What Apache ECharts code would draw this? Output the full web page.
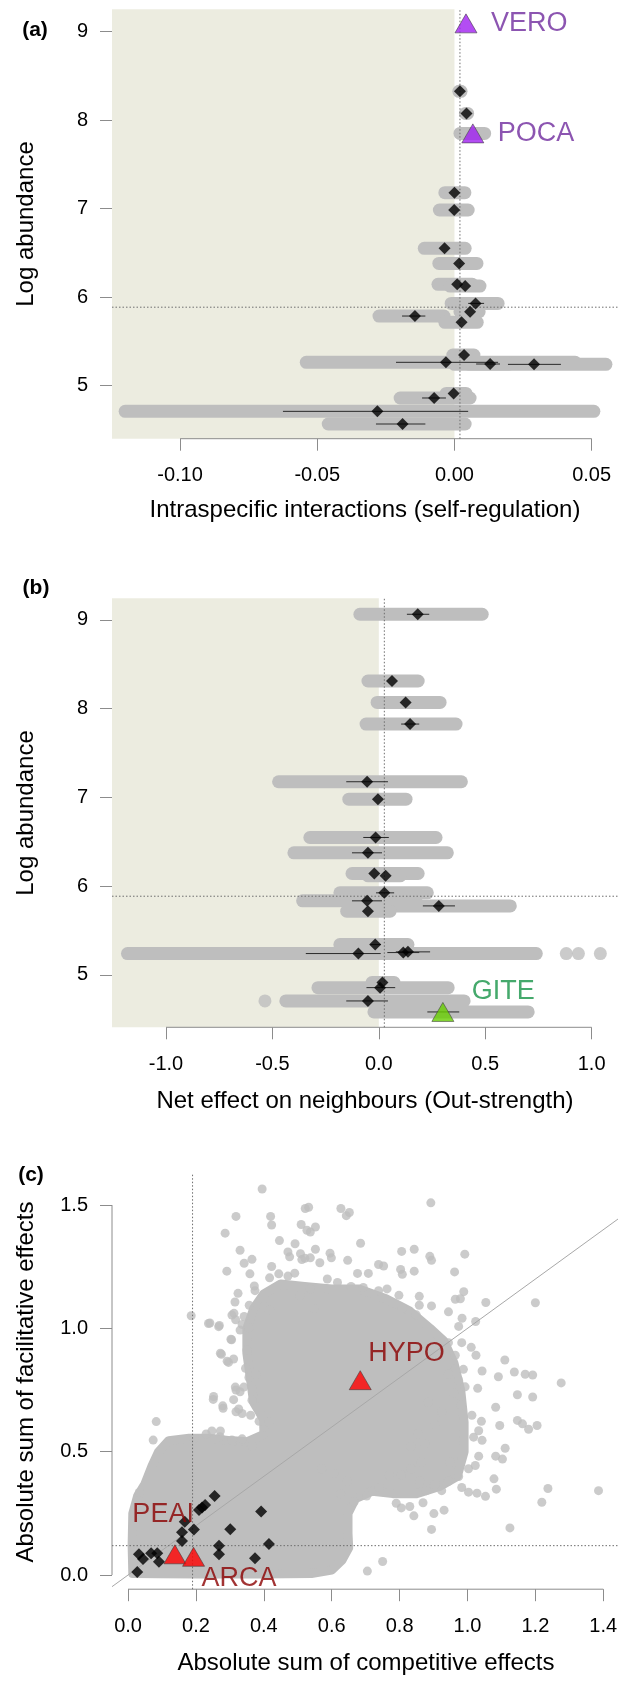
<!DOCTYPE html>
<html><head><meta charset="utf-8">
<script src="https://cdn.jsdelivr.net/npm/echarts@6/dist/echarts.min.js"></script>
<style>html,body{margin:0;padding:0;background:#fff}#c{width:622px;height:1700px}</style>
</head><body><div id="c"></div>
<script>
// ---------- Panel (a): intraspecific interactions ----------
const aBandY  = [8.326, 8.077, 7.851, 7.181, 6.985, 6.552, 6.382, 6.145, 6.126, 5.930, 5.836, 5.787, 5.716, 5.347, 5.264, 5.245, 5.241, 4.913, 4.861, 4.710, 4.567];
const aBandLo = [0.0016, 0.0040, 0.0020, -0.0035, -0.0055, -0.0110, -0.0057, -0.0060, -0.0016, -0.0012, 0.0020, -0.0275, -0.0035, -0.0006, -0.0540, 0.0050, 0.0000, -0.0030, -0.0198, -0.1200, -0.0460];
const aBandHi = [0.0024, 0.0048, 0.0110, 0.0038, 0.0050, 0.0039, 0.0082, 0.0065, 0.0093, 0.0159, 0.0090, -0.0038, 0.0083, 0.0071, 0.0440, 0.0200, 0.0552, 0.0042, 0.0057, 0.0508, 0.0039];
const aMeanY  = [8.326, 8.077, 7.181, 6.985, 6.552, 6.382, 6.145, 6.126, 5.930, 5.836, 5.787, 5.716, 5.347, 5.264, 5.245, 5.241, 4.913, 4.861, 4.710, 4.567];
const aMeanX  = [0.0020, 0.0044, 0.0000, -0.0001, -0.0036, 0.0017, 0.0010, 0.0039, 0.0077, 0.0057, -0.0144, 0.0026, 0.0035, -0.0031, 0.0130, 0.0290, -0.0003, -0.0074, -0.0281, -0.0189];
const aErrY   = [5.930, 5.787, 5.264, 5.245, 5.241, 4.861, 4.710, 4.567];
const aErrLo  = [0.0050, -0.0191, -0.0213, 0.0079, 0.0195, -0.0118, -0.0625, -0.0286];
const aErrHi  = [0.0108, -0.0106, 0.0159, 0.0166, 0.0388, -0.0031, 0.0050, -0.0106];
const aTriName = ['VERO', 'POCA'];
const aTriX    = [0.0042, 0.0067];
const aTriY    = [9.094, 7.851];
const aRefX = 0.002, aRefY = 5.887;
const aTicksX = [-0.10, -0.05, 0.00, 0.05];
const aTicksY = [5, 6, 7, 8, 9];

// ---------- Panel (b): net effect on neighbours ----------
const bBandY  = [9.064, 8.312, 8.071, 7.827, 7.177, 6.981, 6.549, 6.376, 6.143, 6.117, 5.925, 5.835, 5.778, 5.718, 5.342, 5.241, 4.914, 4.857, 4.707, 4.583];
const bBandLo = [-0.089, -0.051, -0.008, -0.060, -0.471, -0.141, -0.324, -0.399, -0.126, -0.050, -0.183, -0.358, -0.032, -0.151, -0.183, -1.181, -0.032, -0.286, -0.437, -0.023];
const bBandHi = [0.486, 0.185, 0.288, 0.363, 0.388, 0.128, 0.269, 0.322, 0.185, 0.100, 0.228, 0.175, 0.618, 0.053, 0.137, 0.740, 0.072, 0.326, 0.401, 0.702];
const bDotX   = [0.881, 0.938, 1.041, -0.535];
const bDotY   = [5.241, 5.241, 5.241, 4.707];
const bMeanY  = [9.064, 8.312, 8.071, 7.827, 7.177, 6.981, 6.549, 6.376, 6.143, 6.117, 5.925, 5.835, 5.778, 5.718, 5.342, 5.241, 5.252, 5.260, 4.914, 4.857, 4.707];
const bMeanX  = [0.183, 0.062, 0.126, 0.147, -0.055, -0.004, -0.015, -0.051, -0.021, 0.032, 0.026, -0.055, 0.282, -0.051, -0.017, -0.096, 0.115, 0.137, 0.017, 0.006, -0.051];
const bErrY   = [9.064, 7.827, 7.177, 6.549, 6.376, 5.925, 5.835, 5.778, 5.342, 5.241, 5.252, 5.260, 4.857, 4.707, 4.583];
const bErrLo  = [0.132, 0.105, -0.153, -0.073, -0.126, -0.013, -0.126, 0.207, -0.040, -0.343, 0.040, 0.080, -0.058, -0.153, 0.228];
const bErrHi  = [0.237, 0.190, 0.043, 0.047, 0.015, 0.072, 0.015, 0.358, 0.010, 0.009, 0.190, 0.241, 0.077, 0.043, 0.378];
const bTriName = ['GITE'];
const bTriX    = [0.301];
const bTriY    = [4.583];
const bRefX = 0.026, bRefY = 5.887;
const bTicksX = [-1.0, -0.5, 0.0, 0.5, 1.0];
const bTicksY = [5, 6, 7, 8, 9];

// ---------- Panel (c): competitive vs facilitative effects ----------
// outline of the region completely covered by overlapping grey points
const cDenseCloud = [[0.014,0.006],[0.012,0.12],[0.014,0.25],[0.028,0.32],[0.05,0.37],[0.07,0.44],[0.09,0.50],[0.12,0.545],[0.18,0.555],[0.24,0.555],[0.30,0.545],[0.35,0.54],[0.40,0.57],[0.40,0.63],[0.37,0.70],[0.36,0.80],[0.35,0.90],[0.35,1.00],[0.37,1.08],[0.40,1.14],[0.45,1.18],[0.52,1.17],[0.60,1.16],[0.68,1.16],[0.76,1.12],[0.83,1.07],[0.89,1.00],[0.93,0.95],[0.96,0.86],[0.98,0.75],[0.99,0.62],[0.99,0.50],[0.97,0.40],[0.92,0.36],[0.85,0.33],[0.78,0.33],[0.72,0.34],[0.67,0.31],[0.648,0.25],[0.648,0.17],[0.65,0.11],[0.63,0.06],[0.60,0.02],[0.54,0.006],[0.39,0.004],[0.21,0.004],[0.09,0.005]];
// individually visible grey points
const cScatter = [
 [0.395,1.565],[0.318,1.454],[0.420,1.454],[0.423,1.419],[0.286,1.386],[0.510,1.421],[0.532,1.491],[0.446,1.356],[0.330,1.317],[0.492,1.343],
 [0.471,1.310],[0.476,1.290],[0.508,1.303],[0.521,1.284],[0.365,1.280],[0.342,1.264],[0.291,1.232],[0.359,1.221],[0.423,1.251],[0.417,1.205],
 [0.444,1.221],[0.471,1.212],[0.491,1.224],[0.372,1.172],[0.374,1.153],[0.324,1.142],[0.315,1.107],[0.186,1.051],[0.241,1.022],[0.269,1.012],
 [0.305,0.954],[0.275,0.895],[0.296,0.862],[0.312,1.061],[0.342,1.048],[0.317,1.035],[0.357,1.094],[0.400,1.088],[0.417,1.074],
 [0.892,1.509],[0.522,1.486],[0.627,1.486],[0.652,1.470],[0.643,1.457],[0.552,1.411],[0.537,1.391],[0.527,1.398],[0.685,1.345],[0.806,1.312],
 [0.843,1.321],[0.889,1.292],[0.894,1.276],[0.992,1.301],[0.552,1.321],[0.595,1.305],[0.599,1.286],[0.647,1.276],[0.512,1.279],[0.537,1.286],
 [0.565,1.266],[0.738,1.259],[0.753,1.253],[0.803,1.239],[0.808,1.219],[0.843,1.232],[0.676,1.223],[0.708,1.223],[0.962,1.229],[0.989,1.149],
 [0.979,1.120],[0.964,1.118],[1.054,1.105],[0.858,1.130],[0.858,1.094],[0.894,1.091],[0.944,1.067],[1.024,1.028],[0.984,1.041],[0.974,1.008],
 [0.587,1.200],[0.617,1.186],[0.657,1.170],[0.693,1.166],[0.738,1.153],[0.763,1.160],[0.798,1.134],[0.808,1.081],[0.849,1.055],[0.537,1.160],
 [0.507,1.133],[0.547,1.081],[1.200,1.104],[0.350,0.912],[0.330,0.993],
 [0.251,0.712],[0.280,0.676],[0.318,0.750],[0.330,0.743],[0.318,0.662],[0.336,0.655],[0.365,0.709],[0.083,0.622],[0.330,0.541],[0.365,0.523],
 [0.401,0.601],[0.074,0.547],[0.033,0.335],[0.194,0.554],[0.230,0.572],[0.271,0.561],[0.306,0.547],[0.018,0.25],
 [0.237,1.020],[0.267,1.007],[0.303,0.956],[0.272,0.899],[0.292,0.867],[0.252,0.724],[0.279,0.686],[0.316,0.762],[0.341,0.762],[0.311,0.711],
 [0.326,0.673],[0.361,0.648],[0.386,0.623],[0.415,0.620],[0.336,0.552],[0.247,0.584],[0.272,0.584],[0.306,1.054],[0.336,1.016],[0.356,1.003],
 [0.311,0.876],[0.346,0.838],[0.356,0.801],[0.376,0.813],
 [1.011,0.923],[1.025,0.891],[1.110,0.872],[1.138,0.823],[1.170,0.814],[1.192,0.811],[1.276,0.779],[1.091,0.804],[1.043,0.827],[1.147,0.731],
 [1.192,0.722],[1.030,0.757],[1.083,0.680],[1.095,0.606],[1.147,0.627],[1.162,0.613],[1.180,0.591],[1.205,0.606],[1.041,0.623],[1.111,0.514],
 [1.083,0.482],[1.103,0.470],[1.078,0.390],[1.085,0.348],[1.237,0.351],[1.386,0.342],[1.219,0.295],[1.125,0.191],[0.894,0.185],[0.931,0.263],
 [0.901,0.249],[0.842,0.240],[0.869,0.293],[0.830,0.278],[0.790,0.291],[0.805,0.272],[1.053,0.319],[1.028,0.332],[1.003,0.336],[0.750,0.055],
 [0.705,0.016],[0.949,0.457],[0.974,0.399],[0.944,0.380],[0.983,0.355],[1.003,0.431],[1.023,0.444],[1.033,0.482],[1.018,0.559],[1.043,0.546],
 [1.033,0.585],[1.013,0.648],[0.981,0.689],[0.959,0.738],[0.993,0.763],[0.974,0.789],[0.988,0.834],[0.964,0.834],[0.884,0.700],[0.924,0.661],
 [0.904,0.610],[0.854,0.572],[0.874,0.533],[0.834,0.521],[0.864,0.457],[0.834,0.431],[0.805,0.406],[0.770,0.403],[0.859,0.380],[0.904,0.367],
 [0.879,0.342],[0.924,0.342],[0.740,0.355],[0.703,0.320],[0.666,0.297],[0.606,0.412],[0.646,0.380],[0.626,0.329],[0.571,0.431],
 [0.944,0.814],[0.964,0.891],[0.944,0.942],[0.983,0.942]
];
const cDiaX = [0.027, 0.032, 0.044, 0.068, 0.086, 0.091, 0.159, 0.159, 0.167, 0.194, 0.209, 0.218, 0.227, 0.255, 0.301, 0.268, 0.268, 0.374, 0.392, 0.415];
const cDiaY = [0.012, 0.084, 0.065, 0.088, 0.088, 0.054, 0.138, 0.173, 0.216, 0.185, 0.264, 0.274, 0.284, 0.320, 0.186, 0.119, 0.084, 0.068, 0.258, 0.126];
const cTriName = ['HYPO', 'PEAI', 'ARCA'];
const cTriX    = [0.684, 0.138, 0.193];
const cTriY    = [0.790, 0.084, 0.074];
const cRefX = 0.19, cRefY = 0.119;
const cTicksX = [0.0, 0.2, 0.4, 0.6, 0.8, 1.0, 1.2, 1.4];
const cTicksY = [0.0, 0.5, 1.0, 1.5];

// ---------- styling ----------
const FONT = '"Liberation Sans", Arial, Helvetica, sans-serif';
const GRAY = '#BEBEBE';
const SHADE = '#ECECE0';
const AXIS = '#8C8C8C';
const labelStyle = {
  VERO: {color:'#6F2A9E', fill:'#A020F0', align:'left', offset:[25,0]},
  POCA: {color:'#6F2A9E', fill:'#A020F0', align:'left', offset:[25,0]},
  GITE: {color:'#169447', fill:'#66CD00', align:'left', offset:[29,-20]},
  HYPO: {color:'#8B0000', fill:'#FF0000', align:'left', offset:[8,-27]},
  PEAI: {color:'#8B0000', fill:'#FF0000', align:'right', offset:[19,-40]},
  ARCA: {color:'#8B0000', fill:'#FF0000', align:'left', offset:[8,22]}
};
const ranges = [
  {xmin:-0.1248, xmax:0.0596, ymin:4.401, ymax:9.253},
  {xmin:-1.2538, xmax:1.124, ymin:4.41, ymax:9.244},
  {xmin:-0.0473, xmax:1.4434, ymin:-0.0575, ymax:1.63}
];

function segSeries(gi, segs, style, z) {
  return {type:'custom', xAxisIndex:gi, yAxisIndex:gi, z:z, silent:true,
    data: segs, encode:{x:[0,2], y:[1,3]},
    renderItem: function(p, api) {
      const a = api.coord([api.value(0), api.value(1)]);
      const b = api.coord([api.value(2), api.value(3)]);
      return {type:'line', shape:{x1:a[0], y1:a[1], x2:b[0], y2:b[1]}, style:Object.assign({}, style)};
    }};
}
function shadeSeries(gi, x0, x1, y0, y1) {
  return {type:'custom', xAxisIndex:gi, yAxisIndex:gi, z:1, silent:true,
    data:[[x0, y0, x1, y1]], encode:{x:[0,2], y:[1,3]},
    renderItem: function(p, api) {
      const a = api.coord([api.value(0), api.value(3)]);
      const b = api.coord([api.value(2), api.value(1)]);
      return {type:'rect', shape:{x:a[0], y:a[1], width:b[0]-a[0], height:b[1]-a[1]}, style:{fill:SHADE}};
    }};
}
function polySeries(gi, pts) {
  return {type:'custom', xAxisIndex:gi, yAxisIndex:gi, z:2, silent:true,
    data:[pts[0]], encode:{x:0, y:1},
    renderItem: function(p, api) {
      return {type:'polygon', shape:{points: pts.map(q => api.coord(q))},
        style:{fill:GRAY, stroke:GRAY, lineWidth:9, lineJoin:'round'}};
    }};
}
function diamondSeries(gi, xs, ys) {
  return {type:'scatter', xAxisIndex:gi, yAxisIndex:gi, z:6, silent:true,
    symbol:'diamond', symbolSize:12, itemStyle:{color:'#000'},
    data: xs.map((x,i) => [x, ys[i]])};
}
function dotSeries(gi, pts, size) {
  return {type:'scatter', xAxisIndex:gi, yAxisIndex:gi, z:2, silent:true,
    symbol:'circle', symbolSize:size, itemStyle:{color:GRAY},
    data: pts};
}
function triSeries(gi, names, xs, ys) {
  return {type:'scatter', xAxisIndex:gi, yAxisIndex:gi, z:7, silent:true,
    symbol:'triangle', symbolSize:[22,19],
    data: names.map((n,i) => {
      const s = labelStyle[n];
      return {name:n, value:[xs[i], ys[i]],
        itemStyle:{color:s.fill, borderColor:'#3a3a3a', borderWidth:0.7},
        label:{show:true, formatter:n, position:'inside', align:s.align, verticalAlign:'middle',
          offset:s.offset, color:s.color, fontSize:27, fontFamily:FONT}};
    })};
}
function refLines(gi, rx, ry) {
  const r = ranges[gi];
  return segSeries(gi, [[rx, r.ymin, rx, r.ymax], [r.xmin, ry, r.xmax, ry]],
    {stroke:'#6E6E6E', lineWidth:1, lineDash:[1.5,2]}, 4);
}
function bandSeries(gi, ys, lo, hi) {
  return segSeries(gi, ys.map((y,i) => [lo[i], y, Math.max(hi[i], lo[i] + 1e-6), y]),
    {stroke:GRAY, lineWidth:13, lineCap:'round'}, 2);
}
function errSeries(gi, ys, lo, hi) {
  return segSeries(gi, ys.map((y,i) => [lo[i], y, hi[i], y]), {stroke:'#2a2a2a', lineWidth:1}, 5);
}

function mkX(gi, ticks, dec) {
  const r = ranges[gi];
  return {type:'value', gridIndex:gi, min:r.xmin, max:r.xmax, position:'bottom',
    axisLine:{show:false, onZero:false}, splitLine:{show:false},
    axisTick:{show:true, inside:false, length:12, customValues:ticks, lineStyle:{color:AXIS, width:1}},
    axisLabel:{show:true, customValues:ticks, margin:27, fontSize:20, color:'#000', fontFamily:FONT,
      formatter: v => (Math.abs(v) < 1e-9 ? 0 : v).toFixed(dec)}};
}
function mkY(gi, ticks, dec) {
  const r = ranges[gi];
  return {type:'value', gridIndex:gi, min:r.ymin, max:r.ymax, position:'left',
    axisLine:{show:false, onZero:false}, splitLine:{show:false},
    axisTick:{show:true, inside:false, length:12, customValues:ticks, lineStyle:{color:AXIS, width:1}},
    axisLabel:{show:true, customValues:ticks, margin:24, fontSize:20, color:'#000', fontFamily:FONT,
      formatter: v => (Math.abs(v) < 1e-9 ? 0 : v).toFixed(dec)}};
}

const series = [];
// (a)
series.push(shadeSeries(0, ranges[0].xmin, 0, ranges[0].ymin, ranges[0].ymax));
series.push(bandSeries(0, aBandY, aBandLo, aBandHi));
series.push(refLines(0, aRefX, aRefY));
series.push(errSeries(0, aErrY, aErrLo, aErrHi));
series.push(diamondSeries(0, aMeanX, aMeanY));
series.push(triSeries(0, aTriName, aTriX, aTriY));
series.push(segSeries(0, [[aTicksX[0], ranges[0].ymin, aTicksX[aTicksX.length-1], ranges[0].ymin]], {stroke:AXIS, lineWidth:1}, 3));
// (b)
series.push(shadeSeries(1, ranges[1].xmin, 0, ranges[1].ymin, ranges[1].ymax));
series.push(bandSeries(1, bBandY, bBandLo, bBandHi));
series.push(dotSeries(1, bDotX.map((x,i) => [x, bDotY[i]]), 13));
series.push(refLines(1, bRefX, bRefY));
series.push(errSeries(1, bErrY, bErrLo, bErrHi));
series.push(diamondSeries(1, bMeanX, bMeanY));
series.push(triSeries(1, bTriName, bTriX, bTriY));
series.push(segSeries(1, [[bTicksX[0], ranges[1].ymin, bTicksX[bTicksX.length-1], ranges[1].ymin]], {stroke:AXIS, lineWidth:1}, 3));
// (c)
series.push(polySeries(2, cDenseCloud));
series.push(dotSeries(2, cScatter, 9));
series.push(segSeries(2, [[ranges[2].xmin, ranges[2].xmin, ranges[2].xmax, ranges[2].xmax]], {stroke:'#A8A8A8', lineWidth:1}, 3));
series.push(refLines(2, cRefX, cRefY));
series.push(diamondSeries(2, cDiaX, cDiaY));
series.push(triSeries(2, cTriName, cTriX, cTriY));
series.push(segSeries(2, [[cTicksX[0], ranges[2].ymin, cTicksX[cTicksX.length-1], ranges[2].ymin],
                          [ranges[2].xmin, cTicksY[0], ranges[2].xmin, cTicksY[cTicksY.length-1]]], {stroke:AXIS, lineWidth:1}, 3));

function txt(t, x, y, size, opts) {
  return Object.assign({type:'text', x:x, y:y, silent:true,
    style:{text:t, fontSize:size, fontFamily:FONT, fill:'#000', align:'center', verticalAlign:'middle'}}, opts || {});
}
function bold(t, x, y) {
  return {type:'text', x:x, y:y, silent:true,
    style:{text:t, fontSize:21, fontWeight:'bold', fontFamily:FONT, fill:'#000', align:'center', verticalAlign:'middle'}};
}
const graphic = [
  bold('(a)', 35, 30), bold('(b)', 36, 588), bold('(c)', 31, 1175),
  txt('Intraspecific interactions (self-regulation)', 365, 510, 24),
  txt('Net effect on neighbours (Out-strength)', 365, 1101, 24),
  txt('Absolute sum of competitive effects', 366, 1663, 24),
  txt('Log abundance', 26, 224, 24, {rotation: Math.PI/2}),
  txt('Log abundance', 26, 813, 24, {rotation: Math.PI/2}),
  txt('Absolute sum of facilitative effects', 26, 1382, 24, {rotation: Math.PI/2})
];

const chart = echarts.init(document.getElementById('c'), null, {renderer:'canvas'});
chart.setOption({
  animation:false,
  backgroundColor:'#fff',
  textStyle:{fontFamily:FONT},
  grid:[
    {left:112, top:9.3, width:506, height:429.4},
    {left:112, top:598.3, width:506, height:429},
    {left:112, top:1173, width:506, height:416.2}
  ],
  xAxis:[mkX(0, aTicksX, 2), mkX(1, bTicksX, 1), mkX(2, cTicksX, 1)],
  yAxis:[mkY(0, aTicksY, 0), mkY(1, bTicksY, 0), mkY(2, cTicksY, 1)],
  series: series,
  graphic: graphic
});
</script></body></html>
